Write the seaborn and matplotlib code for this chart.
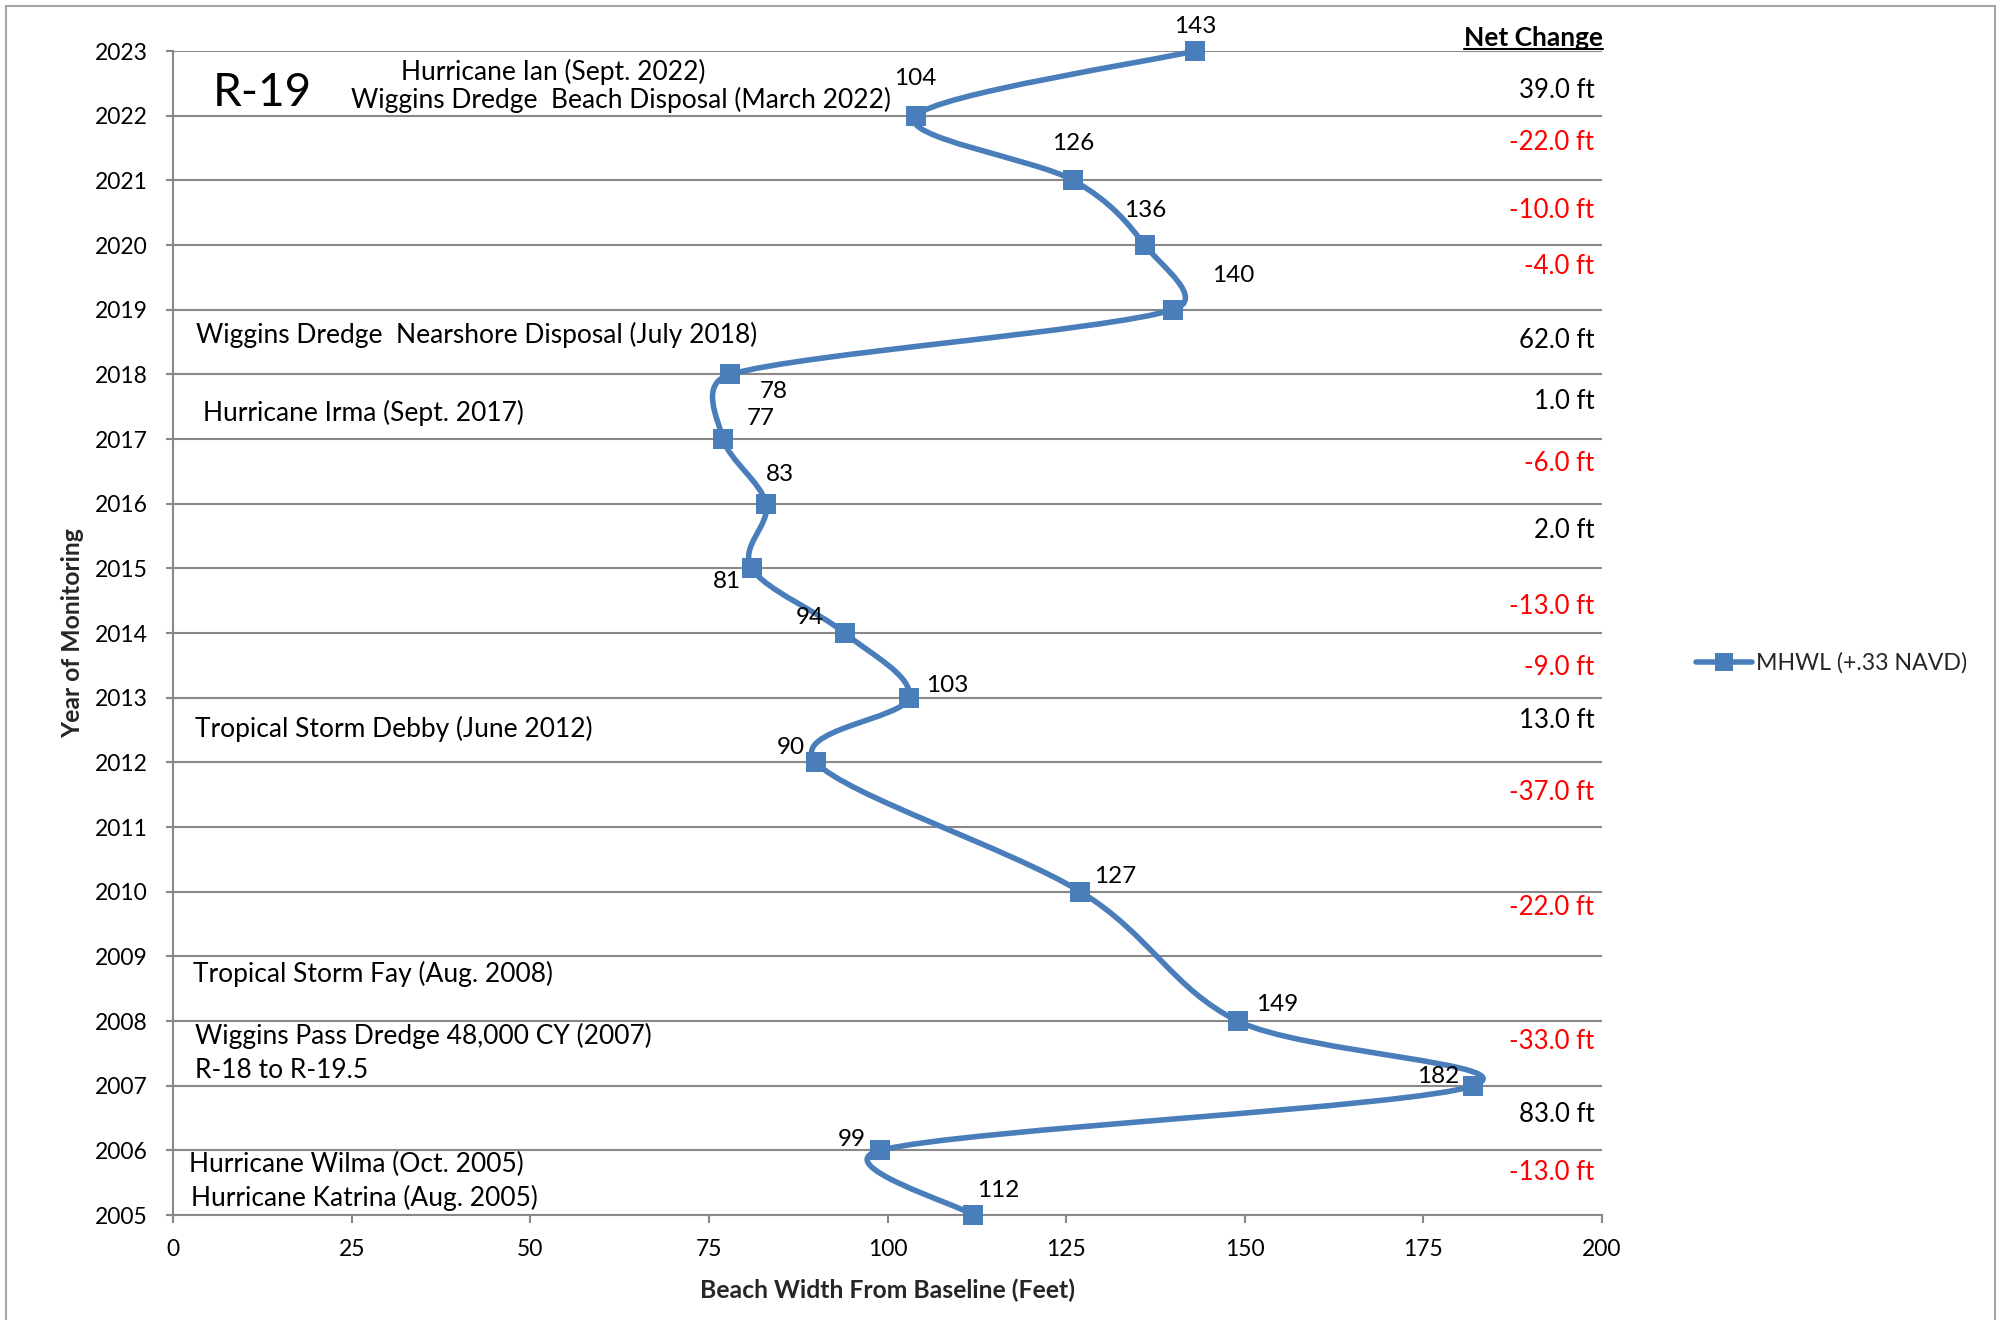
import numpy as np
import pandas as pd
import matplotlib
matplotlib.use("Agg")
import matplotlib.pyplot as plt
from matplotlib.path import Path
from matplotlib.patches import PathPatch, Rectangle
from matplotlib.lines import Line2D
import seaborn as sns

# ---- data -------------------------------------------------------------
years = [2005, 2006, 2007, 2008, 2010, 2012, 2013, 2014, 2015, 2016,
         2017, 2018, 2019, 2020, 2021, 2022, 2023]
widths = [112, 99, 182, 149, 127, 90, 103, 94, 81, 83,
          77, 78, 140, 136, 126, 104, 143]
series_name = "MHWL (+.33 NAVD)"
station = "R-19"
x_ticks = [0, 25, 50, 75, 100, 125, 150, 175, 200]
y_ticks = list(range(2005, 2024))
x_title = "Beach Width From Baseline (Feet)"
y_title = "Year of Monitoring"
change_title = "Net Change"
events = [
    "Hurricane Ian (Sept. 2022)",
    "Wiggins Dredge  Beach Disposal (March 2022)",
    "Wiggins Dredge  Nearshore Disposal (July 2018)",
    "Hurricane Irma (Sept. 2017)",
    "Tropical Storm Debby (June 2012)",
    "Tropical Storm Fay (Aug. 2008)",
    "Wiggins Pass Dredge 48,000 CY (2007)",
    "R-18 to R-19.5",
    "Hurricane Wilma (Oct. 2005)",
    "Hurricane Katrina (Aug. 2005)",
]

# ---- layout / style ---------------------------------------------------
W, H = 2007, 1320
BLUE = "#4A7EBB"
GRID = "#888888"
RED = "#FF0000"

# anchor (x, y baseline) of each event note, in data units
event_pos = [(31.9, 2022.55), (24.9, 2022.12), (3.2, 2018.48), (4.2, 2017.28),
             (3.1, 2012.39), (2.8, 2008.60), (3.1, 2007.65), (3.1, 2007.12),
             (2.2, 2005.67), (2.5, 2005.14)]
# pixel offsets of the value labels (dx right, dy down), oldest first
label_offsets = [(25, -25), (-29, -11), (-35, -9), (40, -17), (35, -15),
                 (-25, -15), (38, -12), (-35, -16), (-25, 13), (14, -29),
                 (38, -21), (43, 17), (60, -34), (0, -35), (0, -37),
                 (-1, -37), (0, -25)]
# vertical placement of the net-change column, newest interval first
change_y = [2022.39, 2021.58, 2020.54, 2019.66, 2018.53, 2017.58, 2016.62,
            2015.59, 2014.41, 2013.47, 2012.64, 2011.53, 2009.76, 2007.68,
            2006.55, 2005.66]

sns.set_theme(style="white")
plt.rcParams["font.family"] = ["Lato", "DejaVu Sans"]

fig = plt.figure(figsize=(W / 100, H / 100), dpi=100)
fig.patch.set_facecolor("white")
ax = fig.add_axes([173 / W, 1 - 1215 / H, (1602 - 173) / W, (1215 - 51) / H])

df = pd.DataFrame({"year": years, "width": widths})

sns.scatterplot(data=df, x="width", y="year", marker="s", s=190,
                color=BLUE, edgecolor=BLUE, linewidth=0, zorder=4,
                clip_on=False, legend=False, ax=ax)

ax.set_xlim(0, 200)
ax.set_ylim(2005, 2023)
ax.set_xticks(x_ticks)
ax.set_yticks(y_ticks)
ax.set_xticklabels([str(t) for t in x_ticks])
ax.set_yticklabels([str(t) for t in y_ticks])
ax.set_axisbelow(True)
ax.yaxis.grid(True, color=GRID, lw=1.5)
ax.xaxis.grid(False)
for side in ("top", "right"):
    ax.spines[side].set_visible(False)
for side in ("left", "bottom"):
    ax.spines[side].set_color(GRID)
    ax.spines[side].set_linewidth(1.5)
ax.tick_params(axis="y", left=True, length=5, width=1.5, color=GRID,
               pad=13, labelsize=16.5, labelcolor="black")
ax.tick_params(axis="x", bottom=True, length=6, width=1.5, color=GRID,
               pad=11, labelsize=16.5, labelcolor="black")

ax.set_xlabel(x_title, fontsize=17.8, fontweight="bold", va="center")
ax.xaxis.set_label_coords(0.5, (1215 - 1290) / (1215 - 51))
ax.set_ylabel(y_title, fontsize=17.8, fontweight="bold", va="center")
ax.yaxis.set_label_coords((73 - 173) / (1602 - 173), 0.5)

# smoothed connecting line: cubic Bezier segments in display space,
# Catmull-Rom handles (1/6) capped at half the segment length
pts = ax.transData.transform(np.column_stack([widths, years]).astype(float))
n = len(pts)

verts = [pts[0]]
codes = [Path.MOVETO]
for i in range(n - 1):
    p0 = pts[max(i - 1, 0)]
    p1 = pts[i]
    p2 = pts[i + 1]
    p3 = pts[min(i + 2, n - 1)]
    d02 = np.linalg.norm(p2 - p0)
    d13 = np.linalg.norm(p3 - p1)
    half = np.linalg.norm(p2 - p1) / 2
    if d02 / 6 < half:
        c1 = p1 + (p2 - p0) / 6
    else:
        c1 = p1 + (p2 - p0) * half / d02
    if d13 / 6 < half:
        c2 = p2 - (p3 - p1) / 6
    else:
        c2 = p2 - (p3 - p1) * half / d13
    verts += [c1, c2, p2]
    codes += [Path.CURVE4] * 3
verts_data = ax.transData.inverted().transform(np.array(verts))
ax.add_patch(PathPatch(Path(verts_data, codes), fill=False, edgecolor=BLUE,
                       lw=4, capstyle="round", joinstyle="round",
                       zorder=3, clip_on=False))

# value labels
for v, yr, (dx, dy) in zip(widths, years, label_offsets):
    ax.annotate(str(v), xy=(v, yr), xytext=(dx, -dy),
                textcoords="offset pixels", ha="center", va="center",
                fontsize=17.5, color="black", zorder=5)

# net change column
changes = [widths[i + 1] - widths[i] for i in range(n - 2, -1, -1)]
for d, yy in zip(changes, change_y):
    ax.text(198.9, yy, f"{d:.1f} ft", ha="right", va="center", fontsize=18.5,
            color=RED if d < 0 else "black")
hdr = ax.text(200.1, 2023.2, change_title, ha="right", va="center",
              fontsize=19, fontweight="bold", color="black")

# event notes
for txt, (ex, ey) in zip(events, event_pos):
    ax.text(ex, ey, txt, ha="left", va="baseline", fontsize=19,
            color="black")
ax.text(5.5, 2022.15, station, ha="left", va="baseline", fontsize=33,
        color="black")

# legend
handle = Line2D([], [], color=BLUE, lw=4, marker="s", markersize=13,
                markeredgewidth=0, solid_capstyle="round")
fig.legend([handle], [series_name], loc="center left",
           bbox_to_anchor=(1696 / W, 1 - 663 / H), frameon=False,
           fontsize=16.7, handlelength=2.4, handletextpad=0.2,
           borderpad=0, borderaxespad=0)

# outer chart border
fig.patches.append(Rectangle((6 / W, -0.05), (1995 - 6) / W, 1.05 - 6 / H,
                             transform=fig.transFigure, fill=False,
                             edgecolor="#A6A6A6", lw=1.5))

# underline under the column header
fig.canvas.draw()
bb = hdr.get_window_extent()
fig.add_artist(Line2D([bb.x0 / W, bb.x1 / W], [1 - 49 / H, 1 - 49 / H],
                      transform=fig.transFigure, color="black", lw=1.5))

fig.savefig("out.png", dpi=100, facecolor="white")
